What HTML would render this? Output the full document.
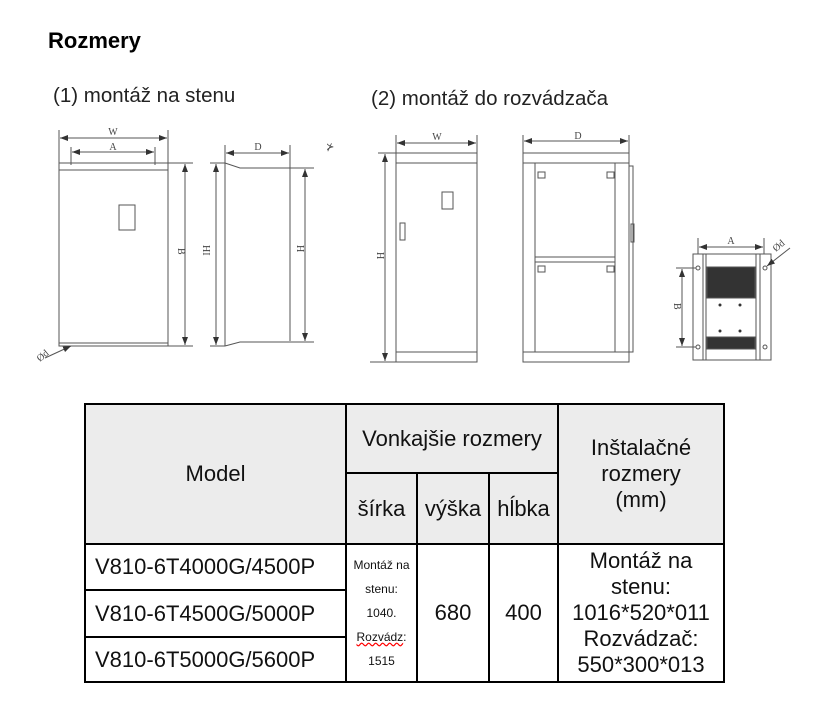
<!DOCTYPE html>
<html><head><meta charset="utf-8"><style>
body{margin:0;width:813px;height:705px;background:#fff;position:relative;font-family:"Liberation Sans",sans-serif;overflow:hidden}
.t{position:absolute;white-space:nowrap}
table{position:absolute;left:84px;top:403px;border-collapse:collapse;font-family:"Liberation Sans",sans-serif}
td{border:2px solid #000;text-align:center;padding:0;color:#111}
.h{background:#ececec}
</style></head><body>
<div class="t" style="left:48px;top:28px;font-size:22px;font-weight:bold;">Rozmery</div>
<div class="t" style="left:53px;top:84px;font-size:20.5px;color:#222">(1) montáž na stenu</div>
<div class="t" style="left:371px;top:87px;font-size:20.5px;color:#222">(2) montáž do rozvádzača</div>
<svg width="813" height="400" style="position:absolute;left:0;top:0" stroke="#555" fill="none" stroke-width="1" font-family="Liberation Serif" font-size="10">
<defs><marker id="a" markerWidth="8" markerHeight="6" refX="8" refY="3" orient="auto-start-reverse"><path d="M0,0L8,3L0,6z" fill="#333" stroke="none"/></marker></defs>
<rect x="59" y="163" width="109" height="183"/>
<line x1="59" y1="170" x2="168" y2="170"/><line x1="59" y1="343" x2="168" y2="343"/>
<line x1="59" y1="130" x2="59" y2="163"/><line x1="168" y1="130" x2="168" y2="163"/>
<line x1="60" y1="138" x2="167" y2="138" marker-start="url(#a)" marker-end="url(#a)"/>
<line x1="71" y1="147" x2="71" y2="165"/><line x1="155" y1="147" x2="155" y2="165"/>
<line x1="72" y1="152" x2="154" y2="152" marker-start="url(#a)" marker-end="url(#a)"/>
<text x="113" y="135" fill="#444" stroke="none" text-anchor="middle">W</text>
<text x="113" y="150" fill="#444" stroke="none" text-anchor="middle">A</text>
<rect x="119" y="205" width="16" height="25"/>
<line x1="168" y1="163" x2="193" y2="163"/><line x1="168" y1="346" x2="193" y2="346"/>
<line x1="185" y1="164" x2="185" y2="345" marker-start="url(#a)" marker-end="url(#a)"/>
<text x="178" y="248" fill="#444" stroke="none" transform="rotate(90 178 248)">B</text>
<line x1="45" y1="358" x2="71" y2="346" marker-end="url(#a)"/>
<text x="40" y="362" fill="#444" stroke="none" transform="rotate(-40 40 362)">Ød</text>
<line x1="210" y1="163" x2="225" y2="163"/><line x1="210" y1="346" x2="225" y2="346"/>
<line x1="216" y1="164" x2="216" y2="345" marker-start="url(#a)" marker-end="url(#a)"/>
<text x="203" y="245" fill="#444" stroke="none" transform="rotate(90 203 245)">HI</text>
<line x1="225" y1="145" x2="225" y2="346"/><line x1="290" y1="145" x2="290" y2="341"/>
<path d="M225,163L240,168L314,168"/><path d="M225,346L240,342L314,342"/>
<line x1="226" y1="153" x2="289" y2="153" marker-start="url(#a)" marker-end="url(#a)"/>
<text x="258" y="150" fill="#444" stroke="none" text-anchor="middle">D</text>
<line x1="305" y1="169" x2="305" y2="341" marker-start="url(#a)" marker-end="url(#a)"/>
<text x="297" y="245" fill="#444" stroke="none" transform="rotate(90 297 245)">H</text>
<text x="326" y="150" fill="#444" stroke="none">⊁</text>
<rect x="396" y="153" width="81" height="209"/>
<line x1="396" y1="163" x2="477" y2="163"/><line x1="396" y1="352" x2="477" y2="352"/>
<line x1="396" y1="135" x2="396" y2="153"/><line x1="477" y1="135" x2="477" y2="153"/>
<line x1="397" y1="143" x2="476" y2="143" marker-start="url(#a)" marker-end="url(#a)"/>
<text x="437" y="140" fill="#444" stroke="none" text-anchor="middle">W</text>
<rect x="442" y="192" width="11" height="17"/><rect x="400" y="223" width="5" height="17"/>
<line x1="378" y1="153" x2="396" y2="153"/><line x1="370" y1="362" x2="396" y2="362"/>
<line x1="385" y1="154" x2="385" y2="361" marker-start="url(#a)" marker-end="url(#a)"/>
<text x="377" y="252" fill="#444" stroke="none" transform="rotate(90 377 252)">H</text>
<rect x="523" y="153" width="106" height="209"/>
<line x1="523" y1="163" x2="629" y2="163"/><line x1="523" y1="352" x2="629" y2="352"/>
<line x1="535" y1="163" x2="535" y2="352"/><line x1="615" y1="163" x2="615" y2="352"/>
<line x1="535" y1="257" x2="615" y2="257"/><line x1="535" y1="262" x2="615" y2="262"/>
<rect x="629" y="166" width="4" height="186"/><rect x="631" y="224" width="3" height="18"/>
<rect x="538" y="172" width="7" height="6"/><rect x="607" y="172" width="7" height="6"/>
<rect x="538" y="266" width="7" height="6"/><rect x="607" y="266" width="7" height="6"/>
<line x1="523" y1="135" x2="523" y2="153"/><line x1="629" y1="135" x2="629" y2="153"/>
<line x1="524" y1="141" x2="628" y2="141" marker-start="url(#a)" marker-end="url(#a)"/>
<text x="578" y="139" fill="#444" stroke="none" text-anchor="middle">D</text>
<rect x="693" y="254" width="78" height="106"/>
<line x1="703" y1="254" x2="703" y2="360"/><line x1="706" y1="254" x2="706" y2="360"/>
<line x1="756" y1="254" x2="756" y2="360"/><line x1="760" y1="254" x2="760" y2="360"/>
<rect x="707" y="267" width="48" height="31" fill="#333"/>
<rect x="707" y="337" width="48" height="12" fill="#333"/>
<g fill="#333" stroke="none"><circle cx="720" cy="305" r="1.5"/><circle cx="740" cy="305" r="1.5"/><circle cx="720" cy="331" r="1.5"/><circle cx="740" cy="331" r="1.5"/></g>
<circle cx="698" cy="268" r="2"/><circle cx="698" cy="347" r="2"/><circle cx="765" cy="268" r="2"/><circle cx="765" cy="347" r="2"/>
<line x1="698" y1="238" x2="698" y2="254"/><line x1="764" y1="238" x2="764" y2="254"/>
<line x1="699" y1="247" x2="763" y2="247" marker-start="url(#a)" marker-end="url(#a)"/>
<text x="731" y="244" fill="#444" stroke="none" text-anchor="middle">A</text>
<line x1="676" y1="268" x2="696" y2="268"/><line x1="676" y1="347" x2="696" y2="347"/>
<line x1="682" y1="269" x2="682" y2="346" marker-start="url(#a)" marker-end="url(#a)"/>
<text x="674" y="303" fill="#444" stroke="none" transform="rotate(90 674 303)">B</text>
<line x1="790" y1="248" x2="767" y2="266" marker-end="url(#a)"/>
<text x="776" y="252" fill="#444" stroke="none" transform="rotate(-40 776 252)">Ød</text>
</svg>
<table>
<tr style="height:69px"><td class="h" rowspan="2" style="width:259px;font-size:22px">Model</td><td class="h" colspan="3" style="font-size:22px">Vonkajšie rozmery</td><td class="h" rowspan="2" style="width:164px;font-size:22px;line-height:26px">Inštalačné<br>rozmery<br>(mm)</td></tr>
<tr style="height:71px"><td class="h" style="width:69px;font-size:22px">šírka</td><td class="h" style="width:70px;font-size:22px">výška</td><td class="h" style="width:67px;font-size:22px">hĺbka</td></tr>
<tr style="height:46px"><td style="font-size:22px;text-align:left;padding-left:9px">V810-6T4000G/4500P</td><td rowspan="3" style="font-size:12px;line-height:24px">Montáž na<br>stenu:<br>1040.<br><span style="text-decoration:underline wavy red">Rozvádz</span>:<br>1515</td><td rowspan="3" style="font-size:22px">680</td><td rowspan="3" style="font-size:22px">400</td><td rowspan="3" style="font-size:22px;line-height:26px">Montáž na<br>stenu:<br>1016*520*011<br>Rozvádzač:<br>550*300*013</td></tr>
<tr style="height:47px"><td style="font-size:22px;text-align:left;padding-left:9px">V810-6T4500G/5000P</td></tr>
<tr style="height:45px"><td style="font-size:22px;text-align:left;padding-left:9px">V810-6T5000G/5600P</td></tr>
</table>
</body></html>
